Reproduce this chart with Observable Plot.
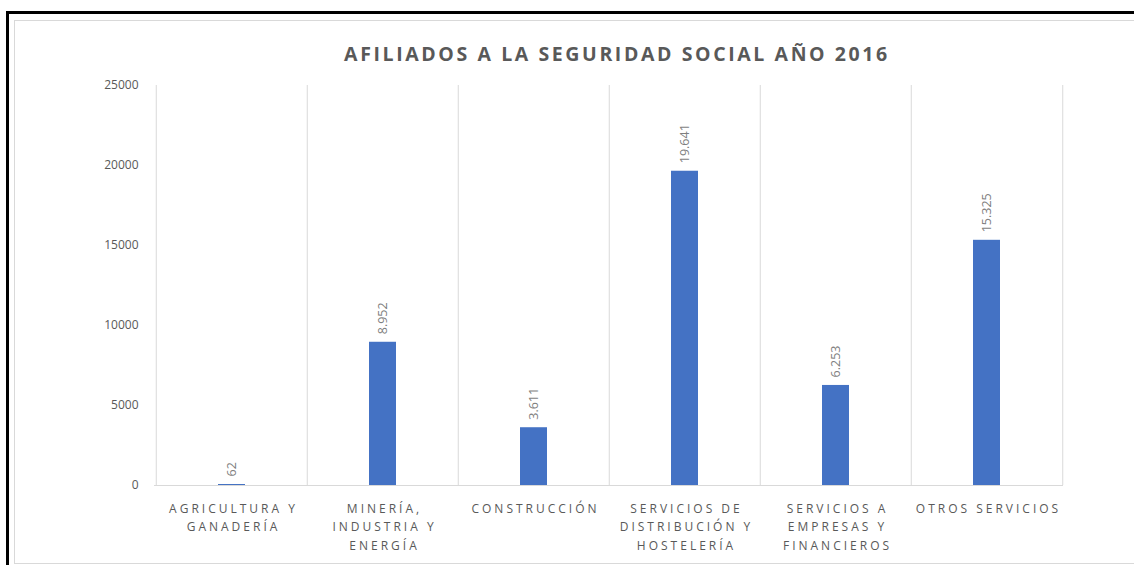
<!DOCTYPE html>
<html>
<head>
<meta charset="utf-8">
<script src="https://cdn.jsdelivr.net/npm/d3@7"></script>
<script src="https://cdn.jsdelivr.net/npm/@observablehq/plot@0.6"></script>
<style>
  html, body { margin: 0; padding: 0; background: #fff; }
  #wrap { position: relative; width: 1134px; height: 565px; overflow: hidden; font-family: "Open Sans", Lato, sans-serif; }
  #outer { position: absolute; left: 6px; top: 11px; width: 1200px; height: 600px; border-top: 3px solid #000; border-left: 3px solid #000; box-sizing: border-box; }
  #inner { position: absolute; left: 14px; top: 20px; width: 1200px; height: 544px; border: 1px solid #d9d9d9; box-sizing: border-box; }
  #title { position: absolute; left: 100px; width: 1034px; top: 40px; text-align: center; font-size: 19.5px; font-weight: bold; letter-spacing: 2.6px; color: #595959; }
  #chart { position: absolute; left: 0; top: 0; }
</style>
</head>
<body>
<div id="wrap">
  <div id="outer"></div>
  <div id="inner"></div>
  <div id="title">AFILIADOS A LA SEGURIDAD SOCIAL AÑO 2016</div>
  <div id="chart"></div>
</div>
<script>
const categories = [
  "AGRICULTURA Y GANADERÍA",
  "MINERÍA, INDUSTRIA Y ENERGÍA",
  "CONSTRUCCIÓN",
  "SERVICIOS DE DISTRIBUCIÓN Y HOSTELERÍA",
  "SERVICIOS A EMPRESAS Y FINANCIEROS",
  "OTROS SERVICIOS"
];
const tickLabels = [
  "AGRICULTURA Y\nGANADERÍA",
  "MINERÍA,\nINDUSTRIA Y\nENERGÍA",
  "CONSTRUCCIÓN",
  "SERVICIOS DE\nDISTRIBUCIÓN Y\nHOSTELERÍA",
  "SERVICIOS A\nEMPRESAS Y\nFINANCIEROS",
  "OTROS SERVICIOS"
];
const afiliados = [62, 8952, 3611, 19641, 6253, 15325];
const yTicks = [0, 5000, 10000, 15000, 20000, 25000];

const data = categories.map((c, i) => ({cat: c, label: tickLabels[i], value: afiliados[i]}));
const fmt = d3.formatLocale({decimal: ",", thousands: ".", grouping: [3], currency: ["", " €"]}).format(",");

const W = 1134, H = 565, mL = 154, mR = 71, mT = 85, mB = 80;
const bw = (W - mL - mR) / categories.length;
const grid = "#d9d9d9", textCol = "#595959";
const spacing = 3.0;

const chart = Plot.plot({
  width: W, height: H,
  marginLeft: mL, marginRight: mR, marginTop: mT, marginBottom: mB,
  style: {fontFamily: '"Open Sans", Lato, sans-serif', fontSize: "12px", color: textCol, background: "transparent"},
  x: {type: "band", domain: categories, padding: 0, axis: null},
  y: {domain: [0, 25000], axis: null},
  marks: [
    Plot.ruleX(categories, {x: d => d, dx: -bw / 2, stroke: grid, strokeWidth: 1}),
    Plot.ruleX(categories.slice(-1), {x: d => d, dx: bw / 2, stroke: grid, strokeWidth: 1}),
    Plot.ruleY([0], {stroke: grid, strokeWidth: 1.2}),
    Plot.tickY(yTicks, {y: d => d, x: categories[0], dx: -bw / 2 - 2.5, stroke: grid, strokeWidth: 1, insetLeft: bw / 2 - 2.5, insetRight: bw / 2 - 2.5}),
    Plot.text(yTicks, {y: d => d, frameAnchor: "left", dx: -16, textAnchor: "end", text: d => String(d), fill: textCol, fontSize: 12}),
    Plot.barY(data, {x: "cat", y: "value", fill: "#4472C4", insetLeft: 62, insetRight: 62}),
    Plot.text(data, {x: "cat", y: "value", text: d => fmt(d.value), rotate: -90, textAnchor: "start", lineAnchor: "middle", dy: -8, fill: "#7f7f7f", fontSize: 12.5}),
    Plot.text(data, {x: "cat", text: "label", frameAnchor: "bottom", lineAnchor: "top", dy: 14, dx: spacing / 2, lineHeight: 1.55, fill: textCol, fontSize: 12})
  ]
});
const flat = new Set(tickLabels.map(s => s.replace(/\n/g, "")));
d3.select(chart).selectAll("text")
  .filter(function() { return flat.has(this.textContent); })
  .style("letter-spacing", spacing + "px");
document.getElementById("chart").appendChild(chart);
</script>
</body>
</html>
